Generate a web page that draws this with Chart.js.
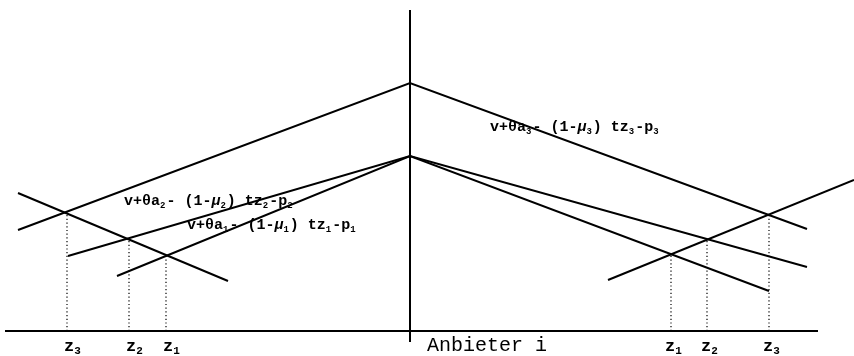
<!DOCTYPE html>
<html>
<head>
<meta charset="utf-8">
<script src="https://cdn.jsdelivr.net/npm/chart.js@4"></script>
<style>
    body { margin: 0; background: #fff; }
</style>
</head>
<body>
<canvas id="myChart" width="854" height="356"></canvas>
<script>
// Nutzen-Linien (x = Standort, y = Nutzen über der Achse)
const line3X = [18, 410, 807];
const line3Y = [101, 248, 102];
const line2X = [68, 410, 807];
const line2Y = [75, 175, 64];
const line1X = [117, 410, 769];
const line1Y = [55, 175, 40];

// Gegenläufige Linien
const crossLeftX = [18, 228];
const crossLeftY = [138, 50];
const crossRightX = [608, 854];
const crossRightY = [51, 151];

// Schnittpunkte z1, z2, z3
const zLeftX = [166, 129, 67];
const zLeftY = [75, 92, 119];
const zRightX = [671, 707, 769];
const zRightY = [77, 92, 116];
const zLabels = ["z_1", "z_2", "z_3"];

const axisX = [5, 818];
const axisVert = [-11, 321];
const anbieterX = 410;

const labelTexts = [
    "v+θa_3- (1-μ_3) tz_3-p_3",
    "v+θa_2- (1-μ_2) tz_2-p_2",
    "v+θa_1- (1-μ_1) tz_1-p_1",
];
const labelAt = [[490, 200], [124, 126], [187, 102]];

const toPoints = (xs, ys) => xs.map((x, i) => ({ x: x, y: ys[i] }));

const solid = (xs, ys) => ({
    data: toPoints(xs, ys),
    showLine: true,
    borderColor: "#000",
    borderWidth: 2,
    pointRadius: 0,
    tension: 0,
});

const datasets = [
    solid(axisX, [0, 0]),
    solid([anbieterX, anbieterX], axisVert),
    solid(line3X, line3Y),
    solid(line2X, line2Y),
    solid(line1X, line1Y),
    solid(crossLeftX, crossLeftY),
    solid(crossRightX, crossRightY),
];

zLeftX.concat(zRightX).forEach((x, i) => {
    const y = zLeftY.concat(zRightY)[i];
    datasets.push({
        data: [{ x: x, y: 0 }, { x: x, y: y }],
        showLine: true,
        borderColor: "#000",
        borderWidth: 1.2,
        borderDash: [1.2, 2.5],
        pointRadius: 0,
    });
});

function drawSub(ctx, text, x, y, size) {
    const parts = text.split(/(_\d|μ)/);
    parts.forEach((p) => {
        if (!p) return;
        if (p[0] === "_") {
            ctx.font = "bold " + Math.round(size * 0.62) + "px 'Liberation Mono'";
            ctx.fillText(p[1], x, y + 3);
            x += ctx.measureText(p[1]).width + 1;
        } else if (p === "μ") {
            ctx.font = "italic bold " + size + "px 'Liberation Mono'";
            ctx.fillText(p, x, y);
            x += ctx.measureText(p).width;
        } else {
            ctx.font = "bold " + size + "px 'Liberation Mono'";
            ctx.fillText(p, x, y);
            x += ctx.measureText(p).width;
        }
    });
}

const labelPlugin = {
    id: "labels",
    afterDraw(chart) {
        const ctx = chart.ctx;
        const sx = chart.scales.x;
        const sy = chart.scales.y;
        ctx.save();
        ctx.fillStyle = "#000";
        ctx.textBaseline = "alphabetic";
        labelTexts.forEach((t, i) => {
            drawSub(ctx, t, sx.getPixelForValue(labelAt[i][0]), sy.getPixelForValue(labelAt[i][1]), 15);
        });
        zLeftX.forEach((x, i) => {
            drawSub(ctx, zLabels[i], sx.getPixelForValue(x) - 3, sy.getPixelForValue(-20), 17);
        });
        zRightX.forEach((x, i) => {
            drawSub(ctx, zLabels[i], sx.getPixelForValue(x) - 6, sy.getPixelForValue(-20), 17);
        });
        ctx.font = "20px 'Liberation Mono'";
        ctx.fillText("Anbieter i", sx.getPixelForValue(anbieterX + 17), sy.getPixelForValue(-20));
        ctx.restore();
    },
};

new Chart(document.querySelector("#myChart"), {
    type: "scatter",
    data: { datasets: datasets },
    options: {
        responsive: false,
        animation: false,
        layout: { padding: 0 },
        plugins: {
            legend: { display: false },
            tooltip: { enabled: false },
        },
        scales: {
            x: { type: "linear", min: 0, max: 854, display: false },
            y: { type: "linear", min: -25, max: 331, display: false },
        },
    },
    plugins: [labelPlugin],
});
</script>
</body>
</html>
